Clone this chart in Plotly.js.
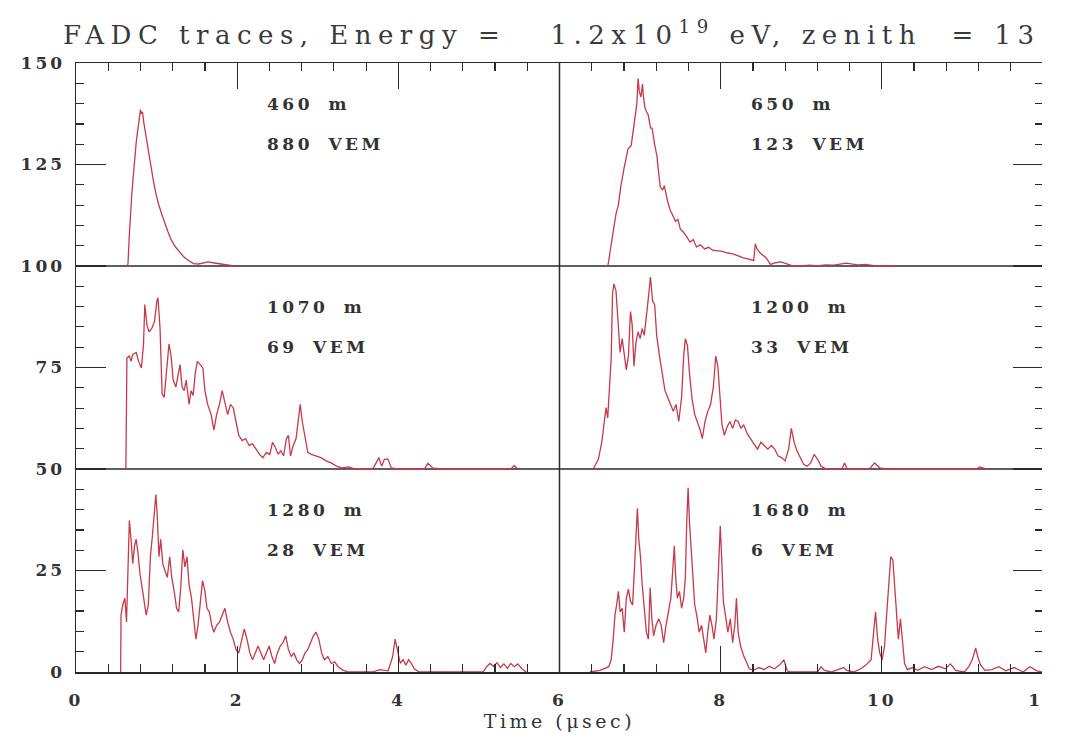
<!DOCTYPE html>
<html>
<head>
<meta charset="utf-8">
<script src="https://cdn.plot.ly/plotly-3.0.1.min.js"></script>
<style>
  html, body { margin: 0; padding: 0; background: #fff; }
  #frame { width: 1042px; height: 741px; overflow: hidden; }
  #chart { width: 1100px; height: 741px; }
  .gtitle { letter-spacing: 6.5px; }
  .annotation-text { letter-spacing: 3.5px; word-spacing: 6px; }
  .xtick, .ytick { letter-spacing: 3px; }
  .xtitle { letter-spacing: 3.5px; }
</style>
</head>
<body>
<div id="frame"><div id="chart"></div></div>
<script>
// FADC traces of six detector stations, [time (µs), signal] pairs.
// Left column stations use 0–6 µs, right column stations 6–12 µs.
const trace460 = [[0.63,0],[0.645,0.5],[0.66,7],[0.675,14],[0.69,17],[0.71,22],[0.73,27],[0.75,31],[0.77,34],[0.79,37],
  [0.80,38.5],[0.81,37.5],[0.825,38],[0.84,35.5],[0.86,33],[0.88,31],[0.90,28.5],[0.93,24.5],[0.96,21],[0.99,18],
  [1.02,15.5],[1.06,13],[1.10,10.5],[1.14,8.5],[1.18,6.5],[1.23,4.8],[1.28,3.6],[1.34,2.2],[1.40,1.3],[1.46,0.6],
  [1.52,0.5],[1.58,0.8],[1.64,1.0],[1.70,0.8],[1.78,0.5],[1.86,0.2],[1.96,0]];

const trace650 = [[6.60,0],[6.64,5],[6.70,12.7],[6.73,15],[6.76,19.5],[6.80,24],[6.85,28.8],[6.89,29.7],[6.93,35.6],[6.96,40],
  [6.975,46.2],[6.99,43],[7.01,41.6],[7.03,44.8],[7.04,42],[7.06,39],[7.08,38],[7.10,37.3],[7.13,34],[7.15,33.9],
  [7.18,30],[7.21,27],[7.23,23],[7.25,19.5],[7.28,18.7],[7.30,19.8],[7.34,16.1],[7.37,14],[7.40,12.7],[7.44,11],
  [7.47,11.5],[7.50,9],[7.53,8.5],[7.57,7.5],[7.62,5.9],[7.66,6.5],[7.70,4.7],[7.75,5.2],[7.80,4.2],[7.85,4.6],
  [7.90,3.9],[7.96,3.8],[8.02,3.6],[8.09,3.2],[8.15,3.0],[8.22,2.5],[8.28,2.0],[8.35,1.7],[8.41,1.3],[8.43,5.5],
  [8.45,4.2],[8.50,3.0],[8.56,2.1],[8.62,0.4],[8.68,0.8],[8.75,1.0],[8.82,0.5],[8.90,0],[9.00,0],[9.10,0.2],
  [9.20,0],[9.30,0.3],[9.40,0.2],[9.50,0.5],[9.56,0.7],[9.62,0.5],[9.70,0.3],[9.80,0.4],[9.90,0.1],[10.0,0],[10.15,0]];

const trace1070 = [[0.619,0],[0.632,27.4],[0.662,27.8],[0.683,26.5],[0.704,28.2],[0.747,28.7],[0.777,26.5],[0.811,24.9],[0.837,30.4],[0.854,40.5],
  [0.880,35.5],[0.906,33.8],[0.940,34.6],[0.974,36.3],[1.004,41.4],[1.017,42.2],[1.043,34.6],[1.069,18.5],[1.094,17.6],[1.120,23.6],
  [1.154,30.8],[1.180,27.8],[1.206,21.9],[1.240,20.2],[1.266,23.6],[1.291,25.7],[1.317,20.2],[1.343,19.3],[1.368,21.9],[1.403,15.9],
  [1.428,19.3],[1.454,18.1],[1.480,23.6],[1.506,26.5],[1.540,25.7],[1.574,24.9],[1.600,19.3],[1.634,15.9],[1.677,13.4],[1.711,9.6],
  [1.745,13.4],[1.780,15.9],[1.814,19.3],[1.848,15.9],[1.882,13.4],[1.917,15.9],[1.951,15.1],[1.985,11.7],[2.020,8.3],[2.062,7.0],
  [2.105,7.5],[2.148,5.8],[2.191,6.2],[2.234,4.9],[2.277,3.6],[2.319,2.8],[2.362,4.1],[2.405,3.6],[2.439,6.6],[2.474,5.3],
  [2.508,3.6],[2.542,4.5],[2.576,3.2],[2.611,7.5],[2.636,8.3],[2.662,3.2],[2.696,5.8],[2.731,7.5],[2.761,13.4],[2.782,15.9],
  [2.808,11.7],[2.842,8.3],[2.876,4.1],[2.919,3.6],[2.975,3.2],[3.039,2.8],[3.103,2.0],[3.168,1.5],[3.232,0.7],[3.296,0.3],
  [3.382,0.5],[3.467,0],[3.682,0],[3.724,1.5],[3.759,2.8],[3.793,0.7],[3.827,2.4],[3.870,2.5],[3.913,0.3],[3.982,0],
  [4.324,0],[4.367,1.4],[4.431,0.2],[4.539,0],[5.395,0],[5.438,0.8],[5.481,0]];

const trace1200 = [[6.418,0],[6.482,2.4],[6.525,6.6],[6.555,11.7],[6.577,15.1],[6.598,12.6],[6.619,20.2],[6.641,27.0],[6.658,43.1],[6.675,45.6],
  [6.701,43.9],[6.727,34.6],[6.752,28.7],[6.778,32.1],[6.804,28.7],[6.829,24.4],[6.855,27.8],[6.881,38.8],[6.902,35.5],[6.924,25.3],
  [6.949,31.2],[6.975,33.8],[7.001,32.1],[7.026,34.6],[7.052,32.9],[7.078,37.1],[7.103,42.2],[7.129,47.3],[7.155,41.4],[7.181,40.5],
  [7.206,32.9],[7.241,27.8],[7.275,23.6],[7.309,19.3],[7.343,17.6],[7.378,15.9],[7.412,14.2],[7.446,15.9],[7.480,11.7],[7.515,17.6],
  [7.541,27.8],[7.562,32.1],[7.588,30.4],[7.613,23.6],[7.643,17.6],[7.678,13.4],[7.712,11.7],[7.746,9.6],[7.772,7.5],[7.806,11.7],
  [7.840,14.2],[7.875,15.9],[7.909,20.2],[7.939,27.8],[7.965,25.3],[7.990,19.3],[8.016,10.9],[8.046,8.3],[8.080,10.4],[8.115,11.7],
  [8.149,10.0],[8.183,12.1],[8.217,11.7],[8.252,10.0],[8.286,10.9],[8.329,8.7],[8.372,7.5],[8.414,6.2],[8.457,4.9],[8.500,6.6],
  [8.543,5.8],[8.586,4.9],[8.629,5.8],[8.671,4.9],[8.714,3.2],[8.757,2.8],[8.800,2.0],[8.843,4.9],[8.877,10.0],[8.911,6.6],
  [8.946,4.5],[8.988,2.8],[9.031,1.1],[9.074,0.7],[9.117,1.5],[9.160,3.6],[9.203,2.4],[9.245,0.7],[9.310,0],[9.503,0],
  [9.537,1.5],[9.571,0],[9.845,0],[9.910,1.5],[9.974,0.3],[10.059,0],[11.173,0],[11.216,0.5],[11.302,0]];

const trace1280 = [[0.554,0],[0.559,14.0],[0.580,16.5],[0.606,18.2],[0.627,12.3],[0.644,28.4],[0.662,37.3],[0.683,32.7],[0.704,26.7],[0.726,31.0],
  [0.747,32.7],[0.769,29.3],[0.794,24.2],[0.820,20.8],[0.846,17.4],[0.871,14.0],[0.897,16.5],[0.923,28.4],[0.948,33.5],[0.974,40.3],
  [0.991,43.7],[1.008,38.6],[1.030,28.4],[1.051,32.7],[1.077,26.7],[1.103,25.0],[1.133,23.3],[1.163,28.4],[1.188,23.3],[1.218,19.9],
  [1.248,15.7],[1.274,14.8],[1.300,20.8],[1.326,30.1],[1.351,25.9],[1.377,28.4],[1.403,21.6],[1.433,18.2],[1.463,13.1],[1.488,8.1],
  [1.514,11.5],[1.540,17.4],[1.570,22.5],[1.600,19.9],[1.625,15.7],[1.655,14.8],[1.685,11.5],[1.711,9.8],[1.745,11.5],[1.780,12.3],
  [1.814,14.0],[1.848,15.7],[1.882,12.3],[1.917,9.8],[1.951,8.1],[1.985,5.5],[2.020,4.7],[2.054,8.1],[2.088,10.6],[2.122,8.1],
  [2.157,4.7],[2.191,3.0],[2.225,4.7],[2.259,6.4],[2.294,4.7],[2.328,3.0],[2.362,4.7],[2.397,6.4],[2.431,3.8],[2.465,2.1],
  [2.499,4.7],[2.534,6.4],[2.568,7.2],[2.602,8.9],[2.636,5.5],[2.671,3.8],[2.705,4.7],[2.739,3.0],[2.774,2.1],[2.808,3.0],
  [2.842,4.7],[2.876,5.5],[2.911,7.2],[2.945,8.9],[2.979,9.8],[3.013,8.1],[3.048,4.7],[3.082,3.0],[3.125,3.8],[3.168,2.1],
  [3.210,2.5],[3.253,1.3],[3.317,0.4],[3.382,0],[3.682,0],[3.767,0.6],[3.874,0.3],[3.930,3.8],[3.960,8.1],[3.990,5.5],
  [4.024,2.1],[4.059,3.0],[4.093,1.7],[4.127,3.0],[4.162,2.1],[4.196,0.8],[4.260,0],[5.053,0],[5.095,1.3],[5.138,2.1],
  [5.181,1.4],[5.224,2.3],[5.267,1.1],[5.310,2.0],[5.353,0.9],[5.395,2.1],[5.438,1.3],[5.481,2.0],[5.532,0.8],[5.588,0]];

const trace1680 = [[6.375,0],[6.504,0.4],[6.611,1.3],[6.641,3.0],[6.667,8.1],[6.688,14.0],[6.709,16.5],[6.731,19.9],[6.752,14.8],[6.778,15.7],
  [6.804,9.8],[6.829,18.2],[6.855,20.4],[6.881,17.4],[6.907,16.5],[6.932,26.7],[6.954,34.4],[6.967,40.3],[6.984,32.7],[7.005,28.4],
  [7.026,21.6],[7.052,14.8],[7.078,9.8],[7.103,8.1],[7.125,20.8],[7.146,13.1],[7.168,8.9],[7.198,11.5],[7.232,13.1],[7.262,11.5],
  [7.292,7.2],[7.322,11.5],[7.352,14.8],[7.382,18.2],[7.408,25.9],[7.425,31.0],[7.442,23.3],[7.463,18.2],[7.489,19.9],[7.515,15.7],
  [7.541,18.2],[7.562,23.3],[7.579,36.9],[7.596,45.4],[7.613,36.9],[7.631,31.8],[7.652,24.2],[7.678,16.5],[7.703,14.0],[7.733,9.8],
  [7.763,11.5],[7.789,8.1],[7.815,4.7],[7.840,9.8],[7.866,14.0],[7.892,11.5],[7.917,8.1],[7.947,13.1],[7.973,28.4],[7.995,36.0],
  [8.012,28.4],[8.033,17.4],[8.059,14.0],[8.089,9.8],[8.119,13.1],[8.149,7.2],[8.175,11.5],[8.196,18.2],[8.217,9.8],[8.247,6.4],
  [8.282,4.2],[8.316,2.5],[8.355,0.8],[8.410,0.4],[8.474,1.1],[8.539,0.6],[8.603,1.4],[8.667,0.8],[8.731,1.7],[8.783,3.0],
  [8.826,0.3],[8.868,0],[9.203,0],[9.245,1.3],[9.288,0.4],[9.374,0],[9.524,1.1],[9.567,0.4],[9.652,0],[9.738,0.8],
  [9.802,1.7],[9.867,3.0],[9.897,9.8],[9.922,14.8],[9.948,8.1],[9.974,4.7],[10.004,3.0],[10.034,6.4],[10.059,14.0],[10.085,21.6],
  [10.111,28.4],[10.137,27.6],[10.158,20.8],[10.179,14.0],[10.205,8.1],[10.231,13.1],[10.257,6.4],[10.282,2.1],[10.317,0.6],[10.381,1.1],
  [10.445,0.4],[10.531,1.3],[10.616,0.6],[10.702,1.4],[10.788,0.8],[10.852,2.0],[10.916,0.4],[11.024,0],[11.079,1.3],[11.122,3.0],
  [11.165,5.9],[11.190,3.8],[11.225,1.7],[11.280,0.4],[11.366,0.6],[11.452,1.3],[11.537,0.3],[11.645,1.1],[11.752,0],[11.838,1.3],
  [11.924,0.3],[11.99,0]];

// Station order: top-left, top-right, middle-left, middle-right, bottom-left, bottom-right
const stationTraces = [trace460, trace650, trace1070, trace1200, trace1280, trace1680];
const distanceLabels = ["460 m", "650 m", "1070 m", "1200 m", "1280 m", "1680 m"];
const signalLabels = ["880 VEM", "123 VEM", "69 VEM", "33 VEM", "28 VEM", "6 VEM"];
const baselines = [100, 100, 50, 50, 0, 0];

const serif = "DejaVu Serif, Liberation Serif, serif";
const ink = "#2a2a2a";
const traceColor = "#c63a4a";

const data = stationTraces.map((tr, i) => ({
  type: "scatter",
  mode: "lines",
  x: tr.map(p => p[0]),
  y: tr.map(p => p[1] + baselines[i]),
  line: { color: traceColor, width: 1.3 },
  hoverinfo: "skip",
  showlegend: false
}));

const labelFont = { family: serif, size: 17, color: "#333333", weight: "bold" };
const annotations = [];
stationTraces.forEach((tr, i) => {
  const xText = (i % 2 === 0) ? 2.34 : 8.35;
  annotations.push({ x: xText, y: baselines[i] + 40, xref: "x", yref: "y", xanchor: "left", yanchor: "middle",
    align: "left", text: distanceLabels[i], showarrow: false, font: labelFont });
  annotations.push({ x: xText, y: baselines[i] + 30, xref: "x", yref: "y", xanchor: "left", yanchor: "middle",
    align: "left", text: signalLabels[i], showarrow: false, font: labelFont });
});

const frameLine = { color: ink, width: 1.5 };
const shapes = [
  { type: "line", xref: "paper", yref: "y", x0: 0, x1: 1, y0: 50, y1: 50, line: frameLine, layer: "below" },
  { type: "line", xref: "paper", yref: "y", x0: 0, x1: 1, y0: 100, y1: 100, line: frameLine, layer: "below" },
  { type: "line", xref: "x", yref: "y", x0: 6, x1: 6, y0: 0, y1: 150, line: frameLine, layer: "below" }
];

const tickFont = { family: serif, size: 17, color: "#333333", weight: "bold" };

const layout = {
  width: 1100,
  height: 741,
  margin: { l: 76, r: 57, t: 63, b: 69 },
  paper_bgcolor: "#ffffff",
  plot_bgcolor: "#ffffff",
  title: {
    text: "FADC traces, Energy =   1.2x10<sup>19</sup> eV, zenith  = 13°",
    font: { family: serif, size: 26, color: "#3a3a3a" },
    xref: "container", x: 63 / 1100, xanchor: "left",
    yref: "container", y: 0.953, yanchor: "middle"
  },
  xaxis: {
    range: [0, 12],
    dtick: 2, tick0: 0,
    ticks: "inside", ticklen: 26, tickwidth: 1.2, tickcolor: ink,
    minor: { dtick: 0.4, ticks: "inside", ticklen: 8, tickwidth: 1.2, tickcolor: ink, showgrid: false },
    showline: true, linecolor: ink, linewidth: 1.5, mirror: "ticks",
    showgrid: false, zeroline: false,
    tickfont: tickFont,
    ticklabelstandoff: 12,
    title: { text: "Time (\u03bcsec)", font: { family: serif, size: 19, color: "#333333" }, standoff: 2 }
  },
  yaxis: {
    range: [0, 150],
    dtick: 25, tick0: 0,
    ticks: "inside", ticklen: 30, tickwidth: 1.2, tickcolor: ink,
    minor: { dtick: 5, ticks: "inside", ticklen: 8, tickwidth: 1.2, tickcolor: ink, showgrid: false },
    showline: true, linecolor: ink, linewidth: 1.5, mirror: "ticks",
    showgrid: false, zeroline: false,
    tickfont: tickFont,
    ticklabelstandoff: 6
  },
  shapes: shapes,
  annotations: annotations
};

Plotly.newPlot("chart", data, layout, { displayModeBar: false, staticPlot: true });
</script>
</body>
</html>
